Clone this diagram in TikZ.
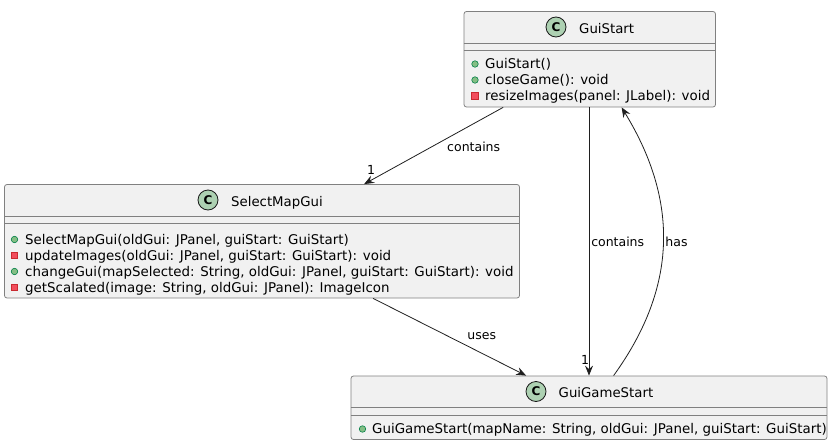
\documentclass[tikz,border=0pt]{standalone}
\usepackage{fontspec}
\setmainfont{DejaVu Sans}
\usepackage{tikz}
\usetikzlibrary{positioning,arrows.meta}

\definecolor{boxfill}{HTML}{F1F1F1}
\definecolor{iconfill}{HTML}{ADD1B2}
\definecolor{pubfill}{HTML}{84BE84}
\definecolor{pubdraw}{HTML}{038048}
\definecolor{privfill}{HTML}{F24D5C}
\definecolor{privdraw}{HTML}{C82930}

\begin{document}
\begin{tikzpicture}[x=1pt,y=-1pt,
                classbox/.style={draw=black!50,fill=boxfill,rounded corners=2.5pt,line width=0.8pt,inner sep=0pt},
                sepline/.style={draw=black!50,line width=0.8pt},
                classicon/.style={circle,draw=black!90,fill=iconfill,line width=0.8pt,minimum size=20pt,inner sep=0pt,font=\fontsize{12}{12}\selectfont\bfseries},
                classname/.style={anchor=base west,inner sep=0pt,font=\fontsize{13.3}{16}\selectfont},
                member/.style={anchor=base west,inner sep=0pt,font=\fontsize{13.4}{16}\selectfont},
                pub/.style={circle,draw=pubdraw,fill=pubfill,minimum size=6.5pt,inner sep=0pt,line width=0.6pt},
                priv/.style={rectangle,draw=privdraw,fill=privfill,minimum size=6.5pt,inner sep=0pt,line width=0.6pt},
                rel/.style={-{Stealth[length=10pt,width=8pt,inset=3.5pt]},draw=black!88,line width=0.8pt},
                rellabel/.style={inner sep=0pt,font=\fontsize{12.5}{14}\selectfont}
            ]
                \useasboundingbox (0,0) rectangle (833,447);

% class boxes
                \node[classbox,minimum width=251.5pt,minimum height=95.5pt] (gui) at (589.75,59.25) { };
                \node[classbox,minimum width=515pt,minimum height=113.5pt] (select) at (262,241.25) { };
                \node[classbox,minimum width=476pt,minimum height=63.5pt] (game) at (589,407.75) { };
                \foreach \n in {gui,select,game}
                    {
                    \draw[sepline] ([yshift=-32pt]\n.north west) -- ([yshift=-32pt]\n.north east);
                    \draw[sepline] ([yshift=-39.5pt]\n.north west) -- ([yshift=-39.5pt]\n.north east);
                }

% headers
                \node[classicon] (guiicon) at (556,27) {C};
                \node[classname] (guiname) at (579,33) {GuiStart};
                \node[classicon] (selecticon) at (208,200) {C};
                \node[classname] (selectname) at (231,206) {SelectMapGui};
                \node[classicon] (gameicon) at (536,391.5) {C};
                \node[classname] (gamename) at (558.5,397.5) {GuiGameStart};

% members
                \foreach \y/\kind/\txt [count=\i] in {68.5/pub/{GuiStart()},
                        84.5/pub/{closeGame(): void},
                        100.5/priv/{resizeImages(panel: JLabel): void}}
                    {
                    \node[\kind] (guivis\i) at (475,\y-4.5) { };
                    \node[member] (guimem\i) at (485,\y) {\txt};
                }
                \foreach \y/\kind/\txt [count=\i] in {244/pub/{SelectMapGui(oldGui: JPanel, guiStart: GuiStart)},
                        260/priv/{updateImages(oldGui: JPanel, guiStart: GuiStart): void},
                        276/pub/{changeGui(mapSelected: String, oldGui: JPanel, guiStart: GuiStart): void},
                        292/priv/{getScalated(image: String, oldGui: JPanel): ImageIcon}}
                    {
                    \node[\kind] (selectvis\i) at (14.5,\y-4.5) { };
                    \node[member] (selectmem\i) at (25,\y) {\txt};
                }
                \node[pub] (gamevis1) at (362.5,429) { };
                \node[member] (gamemem1) at (372,433.5) {GuiGameStart(mapName: String, oldGui: JPanel, guiStart: GuiStart)};

% relations
                \draw[rel] ([xshift=39.5pt]gui.south west) -- ([xshift=360pt]select.north west);
                \draw[rel] (gui.south -| game.north) -- (game.north);
                \draw[rel] ([xshift=263pt]game.north west) .. controls (674,292) and (682,206) .. ([xshift=158pt]gui.south west);
                \draw[rel] ([xshift=369pt]select.south west) -- ([xshift=175.5pt]game.north west);
                \node[rellabel] (containsa) at (473.7,146.5) {contains};
                \node[rellabel] (multa) at (371,169.5) {1};
                \node[rellabel] (containsb) at (617.7,242) {contains};
                \node[rellabel] (multb) at (585,359.5) {1};
                \node[rellabel] (has) at (676.5,242) {has};
                \node[rellabel] (uses) at (481.7,336.5) {uses};

            \end{tikzpicture}
\end{document}
